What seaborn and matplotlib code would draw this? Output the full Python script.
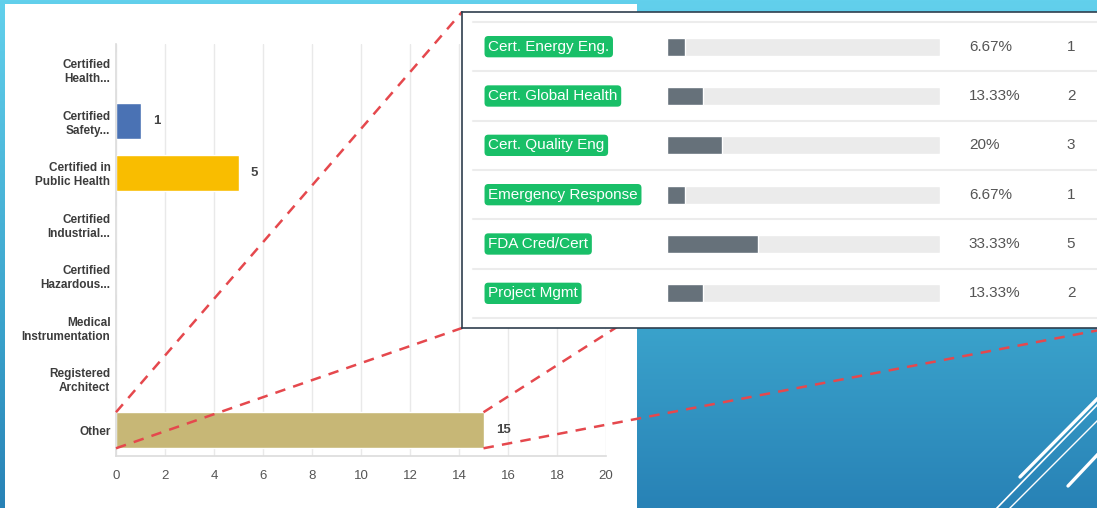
import numpy as np
import pandas as pd
import matplotlib
matplotlib.use("Agg")
import matplotlib.pyplot as plt
import matplotlib.transforms as mtransforms
from matplotlib.patches import Rectangle
from matplotlib.lines import Line2D
import seaborn as sns

# ---------------- data ----------------
categories = ["Certified\nHealth...", "Certified\nSafety...", "Certified in\nPublic Health",
              "Certified\nIndustrial...", "Certified\nHazardous...", "Medical\nInstrumentation",
              "Registered\nArchitect", "Other"]
counts = [0, 1, 5, 0, 0, 0, 0, 15]
bar_colors = ["#4a72b4", "#4a72b4", "#f9bd00", "#4a72b4", "#4a72b4", "#4a72b4", "#4a72b4", "#c7b776"]
x_ticks = [0, 2, 4, 6, 8, 10, 12, 14, 16, 18, 20]

other_labels = ["Cert. Energy Eng.", "Cert. Global Health", "Cert. Quality Eng",
                "Emergency Response", "FDA Cred/Cert", "Project Mgmt"]
other_pct = [6.67, 13.33, 20, 6.67, 33.33, 13.33]
other_pct_text = ["6.67%", "13.33%", "20%", "6.67%", "33.33%", "13.33%"]
other_counts = [1, 2, 3, 1, 5, 2]
track_full = [100] * len(other_labels)

# ---------------- setup ----------------
sns.set_theme(style="white")
plt.rcParams['font.family'] = ['Liberation Sans', 'DejaVu Sans']

W, H = 1097, 508
fig = plt.figure(figsize=(W / 100, H / 100), dpi=100)


def rect(x0, y0, x1, y1):
    return [x0 / W, 1 - y1 / H, (x1 - x0) / W, (y1 - y0) / H]


# ---------------- slide background ----------------
ax_bg = fig.add_axes([0, 0, 1, 1], zorder=-10)
ax_bg.set_xlim(0, W)
ax_bg.set_ylim(H, 0)
ax_bg.axis('off')
rows = np.linspace(0, H, 200)
stops_y = [0, 330, 508]
cols = np.array([[98, 208, 236], [58, 162, 203], [40, 130, 182]]) / 255.0
grad = np.stack([np.interp(rows, stops_y, cols[:, k]) for k in range(3)], axis=1)
grad = np.repeat(grad[:, None, :], 4, axis=1)
ax_bg.imshow(grad, extent=[0, W, H, 0], aspect='auto', interpolation='bilinear')
ax_bg.add_patch(Rectangle((5, 4), 632, 510, facecolor='white', edgecolor='none'))
# decorative white strokes (slide theme ornament)
for (xa, ya, xb, yb, lw) in [(1020, 477, 1100, 396, 2.4), (995, 510, 1100, 402, 1.2),
                              (1008, 510, 1100, 418, 1.0), (1068, 486, 1100, 452, 2.4)]:
    ax_bg.plot([xa, xb], [ya, yb], color='white', lw=lw, solid_capstyle='round')

# ---------------- main bar chart ----------------
ax = fig.add_axes(rect(116, 44, 606, 456), zorder=1)
df = pd.DataFrame({"Certification": categories, "Count": counts})
sns.barplot(data=df, x="Count", y="Certification", hue="Certification", palette=bar_colors,
            legend=False, width=0.70, saturation=1, orient='h', ax=ax)
ax.set_xlim(0, 20)
ax.set_ylim(7.5, -0.5)
ax.set_xticks(x_ticks)
ax.set_xlabel('')
ax.set_ylabel('')
ax.grid(axis='x', color='#e9e9e9', lw=1)
ax.grid(axis='y', visible=False)
ax.set_axisbelow(True)
for s in ['top', 'right']:
    ax.spines[s].set_visible(False)
for s in ['left', 'bottom']:
    ax.spines[s].set_color('#dcdcdc')
    ax.spines[s].set_linewidth(1.2)
ax.tick_params(axis='y', length=0, pad=4, labelsize=8.5, labelcolor='#3c3c3c')
ax.tick_params(axis='x', length=0, pad=10, labelsize=9.5, labelcolor='#555555')
for lab in ax.get_yticklabels():
    lab.set_fontweight('bold')
    lab.set_linespacing(1.2)
for i, v in enumerate(counts):
    if v > 0:
        ax.annotate(f"{v}", (v, i), xytext=(9, 0), textcoords='offset points',
                    ha='left', va='center', fontsize=9.5, fontweight='bold', color='#444444')

# ---------------- inset table of "Other" answers ----------------
ROW = 49.33
ax_tb = fig.add_axes(rect(462, 12, 1110, 328), zorder=5)
ax_tb.set_facecolor('white')
ax_tb.set_xlim(0, 1)
ax_tb.set_ylim(5.5 + 10 / ROW, -0.5 - 10 / ROW)
ax_tb.set_xticks([])
ax_tb.set_yticks([])
for s in ax_tb.spines.values():
    s.set_color('#2f3e4e')
    s.set_linewidth(1.2)
for b in np.arange(-0.5, len(other_labels), 1.0):
    ax_tb.axhline(b, xmin=11 / 648, xmax=1, color='#ececec', lw=1.5)

ax_t = fig.add_axes(rect(667, 22, 940, 318), zorder=6)
ax_t.set_facecolor('none')
df2 = pd.DataFrame({"Answer": other_labels, "Percent": other_pct, "Full": track_full})
sns.barplot(data=df2, x="Full", y="Answer", color="#ebebeb", width=0.37, saturation=1, ax=ax_t)
sns.barplot(data=df2, x="Percent", y="Answer", color="#66717a", width=0.37, saturation=1, ax=ax_t)
ax_t.set_xlim(0, 100)
ax_t.set_ylim(len(other_labels) - 0.5, -0.5)
ax_t.axis('off')
tr = mtransforms.blended_transform_factory(ax_t.transAxes, ax_t.transData)
for i, (lab, pt, c) in enumerate(zip(other_labels, other_pct_text, other_counts)):
    ax_t.text(-0.655, i, lab, transform=tr, ha='left', va='center', fontsize=11, color='white',
              bbox=dict(boxstyle='round,pad=0.24,rounding_size=0.25', facecolor='#19bf68',
                        edgecolor='none'), clip_on=False)
    ax_t.text(1.106, i, pt, transform=tr, ha='left', va='center', fontsize=11,
              color='#555555', clip_on=False)
    ax_t.text(1.48, i, f"{c}", transform=tr, ha='center', va='center', fontsize=11,
              color='#555555', clip_on=False)

# ---------------- red dashed connector lines ----------------
inv = fig.transFigure.inverted()
k = len(categories) - 1
half = 0.35
bar_tl = inv.transform(ax.transData.transform((0, k - half)))
bar_bl = inv.transform(ax.transData.transform((0, k + half)))
bar_tr = inv.transform(ax.transData.transform((counts[k], k - half)))
bar_br = inv.transform(ax.transData.transform((counts[k], k + half)))
bb = ax_tb.get_position()
pairs = [(bar_tl, (bb.x0, bb.y1)), (bar_bl, (bb.x0, bb.y0)),
         (bar_tr, (bb.x1, bb.y1)), (bar_br, (bb.x1, bb.y0))]
for p, q in pairs:
    fig.add_artist(Line2D([p[0], q[0]], [p[1], q[1]], transform=fig.transFigure,
                          color='#e5484d', lw=1.8, dashes=(4.2, 3.3), zorder=3))

fig.savefig("out.png", dpi=100)
